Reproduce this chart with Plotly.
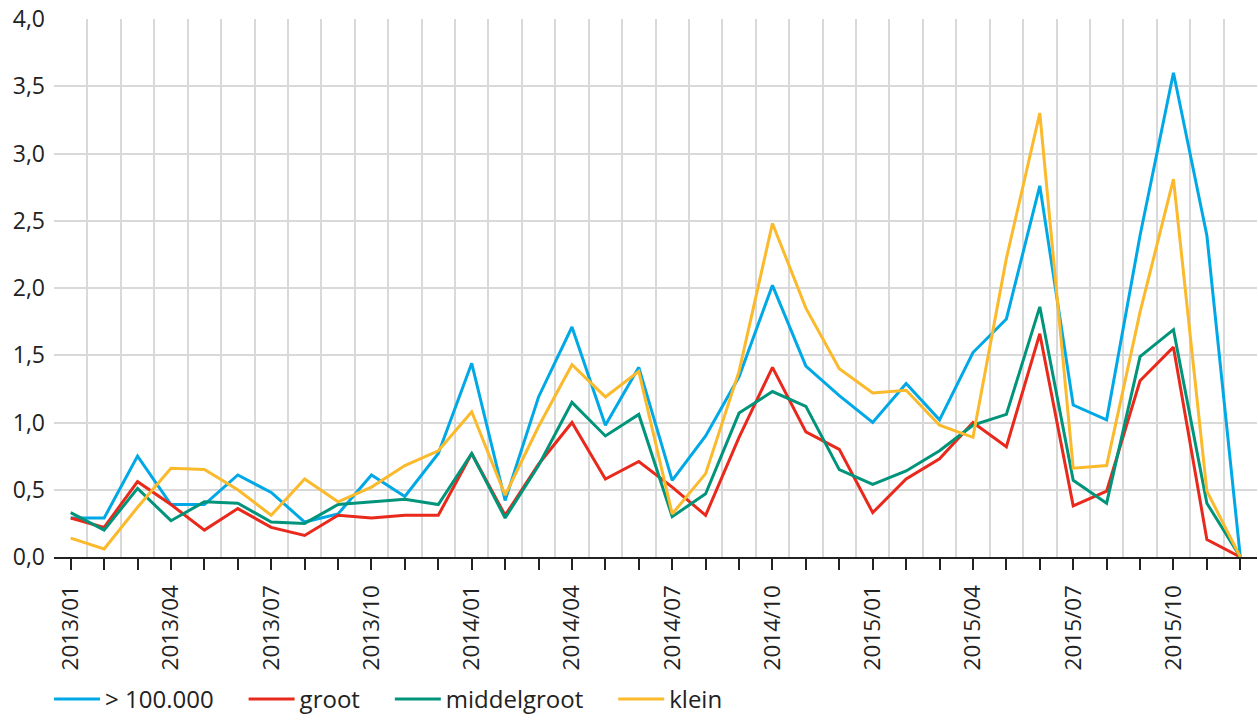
import plotly.graph_objects as go

months = [f"{y}/{m:02d}" for y in (2013, 2014, 2015) for m in range(1, 13)]

groot_100k = [0.29, 0.29, 0.75, 0.39, 0.39, 0.61, 0.48, 0.26, 0.32, 0.61, 0.45, 0.77,
              1.44, 0.42, 1.19, 1.71, 0.98, 1.41, 0.57, 0.90, 1.34, 2.02, 1.42, 1.20,
              1.00, 1.29, 1.02, 1.52, 1.77, 2.76, 1.13, 1.02, 2.39, 3.60, 2.39, 0.0]
groot = [0.29, 0.22, 0.56, 0.39, 0.20, 0.36, 0.22, 0.16, 0.31, 0.29, 0.31, 0.31,
         0.77, 0.31, 0.69, 1.00, 0.58, 0.71, 0.52, 0.31, 0.89, 1.41, 0.93, 0.80,
         0.33, 0.58, 0.73, 1.00, 0.82, 1.66, 0.38, 0.49, 1.31, 1.56, 0.13, 0.0]
middelgroot = [0.33, 0.20, 0.51, 0.27, 0.41, 0.40, 0.26, 0.25, 0.39, 0.41, 0.43, 0.39,
               0.77, 0.29, 0.68, 1.15, 0.90, 1.06, 0.30, 0.47, 1.07, 1.23, 1.12, 0.65,
               0.54, 0.64, 0.79, 0.98, 1.06, 1.86, 0.57, 0.40, 1.49, 1.69, 0.40, 0.0]
klein = [0.14, 0.06, 0.37, 0.66, 0.65, 0.50, 0.31, 0.58, 0.41, 0.52, 0.68, 0.79,
         1.08, 0.46, 0.97, 1.43, 1.19, 1.38, 0.32, 0.62, 1.38, 2.48, 1.85, 1.40,
         1.22, 1.24, 0.98, 0.89, 2.22, 3.30, 0.66, 0.68, 1.82, 2.81, 0.49, 0.0]

names = ["> 100.000", "groot", "middelgroot", "klein"]
colors = ["#00a9e6", "#e8291c", "#00957a", "#fbb92c"]
series = [groot_100k, groot, middelgroot, klein]

x_idx = list(range(len(months)))
tick_text = [m if i % 3 == 0 else "" for i, m in enumerate(months)]

pad = "\u00a0" * 4
fig = go.Figure()
for name, col, vals in zip(names, colors, series):
    fig.add_trace(go.Scatter(x=x_idx, y=vals, mode="lines", name=name + pad,
                             line=dict(color=col, width=3)))

font_family = "Open Sans, Noto Sans, sans-serif"
fig.update_layout(
    width=1258, height=722,
    margin=dict(l=54, r=1, t=19, b=165),
    plot_bgcolor="white", paper_bgcolor="white",
    separators=",.",
    font=dict(family=font_family, size=22, color="#222222"),
    showlegend=True,
    legend=dict(orientation="h", x=0.039, xanchor="left", xref="container",
                y=0.0, yanchor="bottom", yref="container",
                font=dict(size=24, color="#222222"), itemwidth=46,
                tracegroupgap=0),
    xaxis=dict(range=[-0.5, 35.5], tickmode="array", tickvals=x_idx,
               ticktext=tick_text, tickangle=-90, ticks="outside", ticklen=11,
               tickwidth=2, tickcolor="#222222", showgrid=False,
               showline=True, linecolor="#222222", linewidth=2,
               zeroline=False, automargin=False, ticklabelstandoff=6,
               ticklabeloverflow="allow",
               minor=dict(tickmode="linear", tick0=0.5, dtick=1, showgrid=True,
                          gridcolor="#d9d9d9", gridwidth=2, ticks=""),
               tickfont=dict(size=22.5)),
    yaxis=dict(range=[0, 4.0], dtick=0.5, tick0=0, tickformat=".1f",
               showgrid=True, gridcolor="#d9d9d9", gridwidth=2,
               zeroline=False, showline=False, ticks="", automargin=False,
               ticklabelstandoff=8, ticklabeloverflow="allow",
               tickfont=dict(size=23)),
)

fig.write_html("out.html", config={"displayModeBar": False},
               post_script="document.body.style.margin='0';document.body.style.overflow='hidden';")
